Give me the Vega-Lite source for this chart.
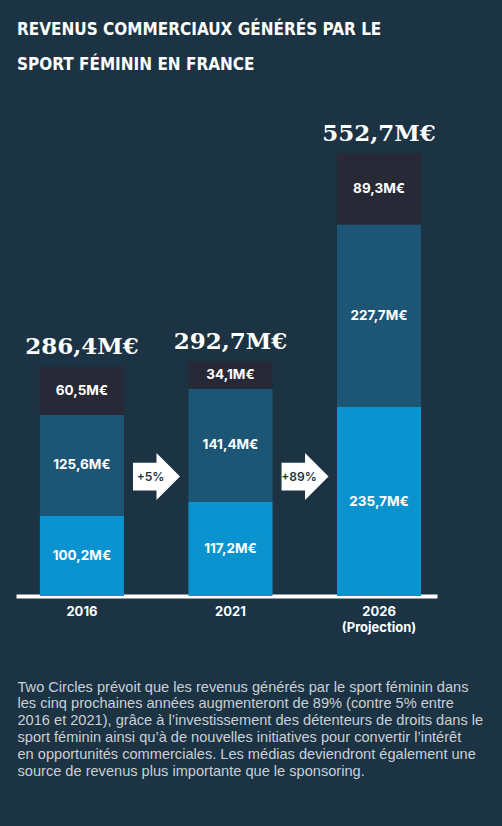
{
  "$schema": "https://vega.github.io/schema/vega-lite/v6.json",
  "width": 421,
  "height": 497,
  "autosize": "none",
  "padding": {"left": 16, "top": 99, "right": 65, "bottom": 230},
  "background": "#1c3344",
  "config": {"view": {"stroke": null}},
  "title": {
    "text": ["REVENUS COMMERCIAUX GÉNÉRÉS PAR LE", "SPORT FÉMININ EN FRANCE"],
    "anchor": "start",
    "frame": "group",
    "dx": 1,
    "offset": 8,
    "baseline": "bottom",
    "font": "DejaVu Sans Condensed, sans-serif",
    "fontWeight": "bold",
    "fontSize": 17,
    "lineHeight": 35,
    "color": "white"
  },
  "datasets": {
    "segments": [
      {"annee": "2016", "source": "Médias", "rang": 1, "valeur": 100.2},
      {"annee": "2016", "source": "Sponsoring", "rang": 2, "valeur": 125.6},
      {"annee": "2016", "source": "Billetterie", "rang": 3, "valeur": 60.5},
      {"annee": "2021", "source": "Médias", "rang": 1, "valeur": 117.2},
      {"annee": "2021", "source": "Sponsoring", "rang": 2, "valeur": 141.4},
      {"annee": "2021", "source": "Billetterie", "rang": 3, "valeur": 34.1},
      {"annee": "2026", "source": "Médias", "rang": 1, "valeur": 235.7},
      {"annee": "2026", "source": "Sponsoring", "rang": 2, "valeur": 227.7},
      {"annee": "2026", "source": "Billetterie", "rang": 3, "valeur": 89.3}
    ],
    "totaux": [
      {"annee": "2016", "total": 286.4},
      {"annee": "2021", "total": 292.7},
      {"annee": "2026", "total": 552.7}
    ],
    "fleches": [
      {"annee": "2021", "niveau": 149, "texte": "+5%"},
      {"annee": "2026", "niveau": 149, "texte": "+89%"}
    ]
  },
  "encoding": {
    "x": {
      "field": "annee",
      "type": "nominal",
      "sort": ["2016", "2021", "2026"],
      "scale": {"paddingInner": 0.434, "paddingOuter": 0.134, "align": 0.6},
      "axis": {
        "labelAngle": 0,
        "ticks": false,
        "domainColor": "white",
        "domainWidth": 4,
        "labelColor": "white",
        "labelFont": "Inter",
        "labelFontWeight": "bold",
        "labelFontSize": 13,
        "labelPadding": 9,
        "labelLineHeight": 16,
        "labelExpr": "datum.value == '2026' ? ['2026', '(Projection)'] : datum.value",
        "title": [
          "Two Circles prévoit que les revenus générés par le sport féminin dans",
          "les cinq prochaines années augmenteront de 89% (contre 5% entre",
          "2016 et 2021), grâce à l’investissement des détenteurs de droits dans le",
          "sport féminin ainsi qu’à de nouvelles initiatives pour convertir l’intérêt",
          "en opportunités commerciales. Les médias deviendront également une",
          "source de revenus plus importante que le sponsoring."
        ],
        "titleAnchor": "start",
        "titleAlign": "left",
        "titleBaseline": "top",
        "titleX": 1,
        "titleY": 83,
        "titleFont": "Liberation Sans",
        "titleFontWeight": "normal",
        "titleFontSize": 14.6,
        "titleLineHeight": 16.8,
        "titleColor": "#c9d0d6"
      }
    }
  },
  "layer": [
    {
      "data": {"name": "segments"},
      "mark": {"type": "bar"},
      "encoding": {
        "y": {
          "field": "valeur",
          "type": "quantitative",
          "scale": {"domain": [0, 620], "nice": false},
          "axis": null
        },
        "color": {
          "field": "source",
          "type": "nominal",
          "scale": {
            "domain": ["Médias", "Sponsoring", "Billetterie"],
            "range": ["#0a93cf", "#1d5575", "#272a36"]
          },
          "legend": null
        },
        "order": {"field": "rang", "type": "quantitative", "sort": "ascending"}
      }
    },
    {
      "data": {"name": "segments"},
      "transform": [
        {"stack": "valeur", "groupby": ["annee"], "sort": [{"field": "rang", "order": "ascending"}], "as": ["y0", "y1"]},
        {"calculate": "(datum.y0 + datum.y1) / 2", "as": "milieu"},
        {"calculate": "replace(format(datum.valeur, '.1f'), '.', ',') + 'M€'", "as": "etiquette"}
      ],
      "mark": {"type": "text", "font": "Inter", "fontWeight": "bold", "fontSize": 13.5, "color": "white", "baseline": "middle"},
      "encoding": {
        "y": {
          "field": "milieu",
          "type": "quantitative",
          "scale": {"domain": [0, 620], "nice": false},
          "axis": null
        },
        "text": {"field": "etiquette"}
      }
    },
    {
      "data": {"name": "totaux"},
      "transform": [
        {"calculate": "replace(format(datum.total, '.1f'), '.', ',') + 'M€'", "as": "etiquette"}
      ],
      "mark": {"type": "text", "font": "DejaVu Serif", "fontWeight": "bold", "fontSize": 23, "color": "white", "baseline": "alphabetic", "dy": -12},
      "encoding": {
        "y": {
          "field": "total",
          "type": "quantitative",
          "scale": {"domain": [0, 620], "nice": false},
          "axis": null
        },
        "text": {"field": "etiquette"}
      }
    },
    {
      "data": {"name": "fleches"},
      "mark": {
        "type": "point",
        "shape": "M-1,-0.59L0,-0.59L0,-1L1,0L0,1L0,0.59L-1,0.59Z",
        "filled": true,
        "opacity": 1,
        "size": 2209,
        "color": "white",
        "xOffset": -74
      },
      "encoding": {
        "y": {
          "field": "niveau",
          "type": "quantitative",
          "scale": {"domain": [0, 620], "nice": false},
          "axis": null
        }
      }
    },
    {
      "data": {"name": "fleches"},
      "mark": {"type": "text", "font": "Inter", "fontWeight": 600, "fontSize": 12, "color": "#1c3344", "baseline": "middle", "xOffset": -80},
      "encoding": {
        "y": {
          "field": "niveau",
          "type": "quantitative",
          "scale": {"domain": [0, 620], "nice": false},
          "axis": null
        },
        "text": {"field": "texte"}
      }
    }
  ]
}
